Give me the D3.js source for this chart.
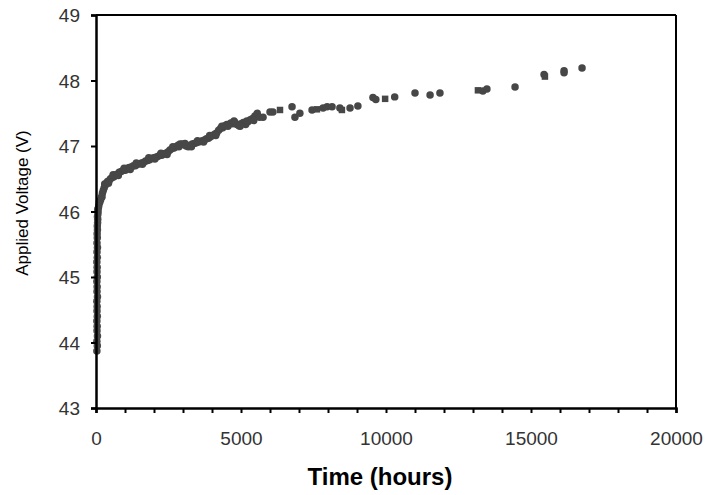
<!DOCTYPE html>
<html>
<head>
<meta charset="utf-8">
<script src="https://cdn.jsdelivr.net/npm/d3@7"></script>
<style>
  html, body { margin: 0; padding: 0; background: #fff; }
  svg { display: block; }
</style>
</head>
<body>
<svg id="chart" width="708" height="495"></svg>
<script>
// ---- data ----
const rampHours = [30,45,30,50,35,40,30,45,35,40,30,50,35,40,30,45,35,40,30,45,35,50,35,45,40,50,45,55,60,50,65,70,60,85];
const rampVolts = [43.87,43.95,44.02,44.10,44.18,44.25,44.33,44.40,44.48,44.55,44.63,44.70,44.78,44.85,44.93,45.00,45.08,45.15,45.23,45.30,45.38,45.45,45.52,45.60,45.66,45.72,45.78,45.83,45.88,45.92,45.96,46.00,46.03,46.06];

const curveHours = [100,130,160,190,220,250,280,320,360,400,450,500,560,620,680,740,800,870,940,1010,1080,1150,1220,1290,1360,1430,1500,1570,1640,1710,1780,1850,1920,1990,2060,2130,2200,2270,2340,2410,2480,2550,2620,2690,2760,2830,2900,2970,3040,3110,3180,3250,3320,3390,3460,3530,3600,3670,3740,3810,3880,3950,4020,4090,4160,4230,4300,4370,4440,4510,4580,4650,4720,4790,4860,4930,5000,5080,5160,5240,5320,5400,5480,5560,5640];
const curveVolts = [46.10,46.14,46.18,46.22,46.28,46.32,46.36,46.40,46.43,46.46,46.47,46.50,46.52,46.53,46.56,46.57,46.60,46.61,46.63,46.63,46.66,46.67,46.68,46.70,46.70,46.72,46.73,46.74,46.75,46.77,46.78,46.79,46.81,46.82,46.83,46.84,46.86,46.86,46.88,46.89,46.91,46.94,46.96,46.97,46.99,47.01,47.03,47.03,47.02,47.00,46.99,47.01,47.03,47.04,47.05,47.06,47.07,47.08,47.09,47.11,47.12,47.14,47.16,47.18,47.20,47.24,47.27,47.28,47.31,47.33,47.33,47.35,47.34,47.36,47.33,47.31,47.34,47.36,47.33,47.37,47.40,47.42,47.46,47.50,47.44];

const scatterHours = [115,205,300,430,590,770,970,1180,1390,1600,1820,2030,2240,2450,2650,2860,3070,3290,3500,3710,3920,4130,4340,4550,4760,4970,5200,5440];
const scatterVolts = [46.15,46.22,46.42,46.43,46.56,46.55,46.66,46.64,46.74,46.72,46.82,46.80,46.89,46.87,46.99,46.99,47.04,46.99,47.08,47.06,47.16,47.16,47.30,47.30,47.38,47.30,47.38,47.39];

const tailHours = [5760,6000,6100,6345,6760,6860,7030,7450,7620,7830,7970,8140,8410,8480,8760,9030,9550,9650,9970,10300,11000,11520,11860,13170,13340,13480,14450,15450,15480,16140,16140,16760];
const tailVolts = [47.44,47.52,47.52,47.55,47.60,47.44,47.50,47.55,47.56,47.58,47.60,47.60,47.58,47.55,47.58,47.61,47.74,47.71,47.72,47.75,47.81,47.78,47.81,47.85,47.84,47.87,47.90,48.09,48.06,48.15,48.12,48.19];

const xTicks = [0,5000,10000,15000,20000];
const yTicks = [43,44,45,46,47,48,49];
const xLabel = "Time (hours)";
const yLabel = "Applied Voltage (V)";

// ---- drawing ----
const svg = d3.select("#chart");
const x = d3.scaleLinear().domain([0,20000]).range([96,676]);
const y = d3.scaleLinear().domain([43,49]).range([408,15]);
const font = "Arial, 'Liberation Sans', Helvetica, sans-serif";

const points = [];
rampHours.forEach((h,i)=>points.push({h, v: rampVolts[i], s: 0}));
curveHours.forEach((h,i)=>points.push({h, v: curveVolts[i], s: 0}));
scatterHours.forEach((h,i)=>points.push({h, v: scatterVolts[i], s: 0}));
tailHours.forEach((h,i)=>points.push({h, v: tailVolts[i], s: (i % 5 === 3) ? 1 : 0}));

const circle = d3.symbol().type(d3.symbolCircle).size(44);
const square = d3.symbol().type(d3.symbolSquare).size(42);

svg.append("g").selectAll("path").data(points).join("path")
  .attr("d", d => d.s ? square() : circle())
  .attr("transform", d => `translate(${x(d.h)},${y(d.v)})`)
  .attr("fill", "#474747");

// frame top & right
svg.append("line").attr("x1", x(0)).attr("x2", x(20000)).attr("y1", y(49)).attr("y2", y(49))
  .attr("stroke", "#000").attr("stroke-width", 2);
svg.append("line").attr("x1", x(20000)).attr("x2", x(20000)).attr("y1", y(49)).attr("y2", y(43))
  .attr("stroke", "#000").attr("stroke-width", 2);

// x axis
const xAxis = d3.axisBottom(x).tickValues(d3.range(0, 20001, 1000)).tickSize(5)
  .tickFormat(d => xTicks.includes(d) ? d : "");
const gx = svg.append("g").attr("transform", `translate(0,${y(43)})`).call(xAxis);
gx.select(".domain").attr("stroke", "#000").attr("stroke-width", 2.5);
gx.selectAll(".tick line").attr("stroke", "#000").attr("stroke-width", 2);
gx.selectAll(".tick text").attr("font-family", font).attr("font-size", 19)
  .attr("fill", "#333").attr("dy", null).attr("y", 37);

// y axis
const yAxis = d3.axisLeft(y).tickValues(yTicks).tickSize(5).tickFormat(d3.format("d"));
const gy = svg.append("g").attr("transform", `translate(${x(0)},0)`).call(yAxis);
gy.select(".domain").attr("stroke", "#000").attr("stroke-width", 2.5);
gy.selectAll(".tick line").attr("stroke", "#000").attr("stroke-width", 2);
gy.selectAll(".tick text").attr("font-family", font).attr("font-size", 19)
  .attr("fill", "#333").attr("x", -16).attr("dy", "0.35em");

// axis titles
svg.append("text").attr("x", 380).attr("y", 485).attr("text-anchor", "middle")
  .attr("font-family", font).attr("font-size", 24).attr("font-weight", "bold")
  .attr("fill", "#000").text(xLabel);
svg.append("text").attr("transform", "translate(28,203) rotate(-90)").attr("text-anchor", "middle")
  .attr("font-family", font).attr("font-size", 17).attr("fill", "#000").text(yLabel);
</script>
</body>
</html>
